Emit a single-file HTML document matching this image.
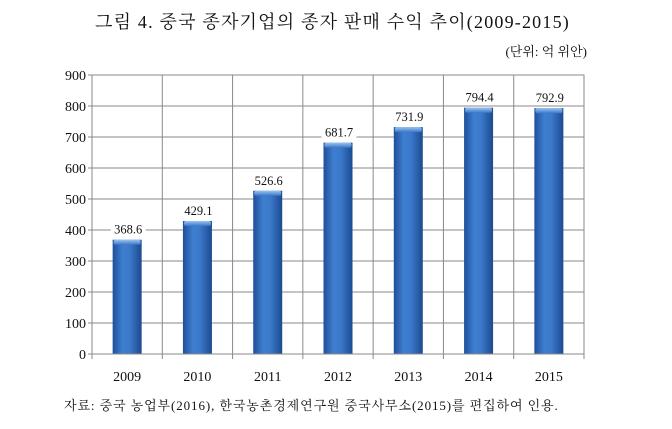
<!DOCTYPE html>
<html><head><meta charset="utf-8"><style>
body{margin:0;background:#fff;width:672px;height:429px;overflow:hidden}
svg{display:block}
text{font-family:"Liberation Serif","Noto Serif CJK KR","Noto Serif CJK SC",serif;fill:#111}
</style></head><body>
<svg width="672" height="429">
<defs>
<linearGradient id="bg" x1="0" x2="1" y1="0" y2="0">
<stop offset="0" stop-color="#1f4f9a"/><stop offset="0.35" stop-color="#3f7fd0"/><stop offset="0.6" stop-color="#3a78c8"/><stop offset="1" stop-color="#1c4a90"/>
</linearGradient>
<linearGradient id="tg" x1="0" x2="0" y1="0" y2="1">
<stop offset="0" stop-color="#9cc3f0"/><stop offset="1" stop-color="#3a78c8"/>
</linearGradient>
</defs>
<text x="95" y="28" font-size="18" letter-spacing="1.2">그림 4.  중국 종자기업의 종자 판매 수익 추이(2009-2015)</text>
<text x="587" y="56" font-size="13" text-anchor="end">(단위: 억 위안)</text>
<g id="plot"></g>
<text x="64" y="410" font-size="13" letter-spacing="0.9">자료: 중국 농업부(2016), 한국농촌경제연구원 중국사무소(2015)를 편집하여 인용.</text>
</svg>
<script>
const categories=["2009","2010","2011","2012","2013","2014","2015"];
const values=[368.6,429.1,526.6,681.7,731.9,794.4,792.9];
const labels=["368.6","429.1","526.6","681.7","731.9","794.4","792.9"];
const yTicks=[0,100,200,300,400,500,600,700,800,900];
const L=92,R=584,T=75,B=354,yMax=900;
const ns="http://www.w3.org/2000/svg";
const g=document.getElementById("plot");
const cw=(R-L)/categories.length;
const y=v=>B-(v/yMax)*(B-T);
const x=i=>L+cw*(i+0.5);
function mk(t,a){const e=document.createElementNS(ns,t);for(const k in a)e.setAttribute(k,a[k]);g.appendChild(e);return e;}
yTicks.forEach(v=>{
 const l=mk("line",{x1:L-4,x2:R,y1:y(v),y2:y(v),stroke:"#8a8a8a","stroke-width":1});
 
 
 const t=mk("text",{x:L-6,y:y(v)+5,"font-size":14,"text-anchor":"end"});t.textContent=v;
 
 
});
for(let i=0;i<=categories.length;i++){
 const l=mk("line",{x1:L+cw*i,x2:L+cw*i,y1:T,y2:B+5,stroke:"#8a8a8a","stroke-width":1});
 
 
}
categories.forEach((c,i)=>{
 const bw=29,x0=x(i)-bw/2,yt=y(values[i]);
 const r=mk("rect",{x:x0,y:yt,width:bw,height:B-yt,fill:"url(#bg)"});
 
 
 const cap=mk("rect",{x:x0+1,y:yt,width:bw-2,height:5,rx:2,fill:"url(#tg)"});
 
 
 const bgl=mk("rect",{x:x0-2,y:yt-17,width:bw+6,height:14,fill:"#fff"});
 
 
 const t=mk("text",{x:x(i)+1,y:yt-6,"font-size":12.5,"text-anchor":"middle"});t.textContent=labels[i];
 
 
 const xl=mk("text",{x:x(i),y:381,"font-size":14,"text-anchor":"middle"});xl.textContent=c;
 
 
});
const b=mk("rect",{x:L,y:T,width:R-L,height:B-T,fill:"none",stroke:"#8a8a8a"});


</script>
</body></html>
